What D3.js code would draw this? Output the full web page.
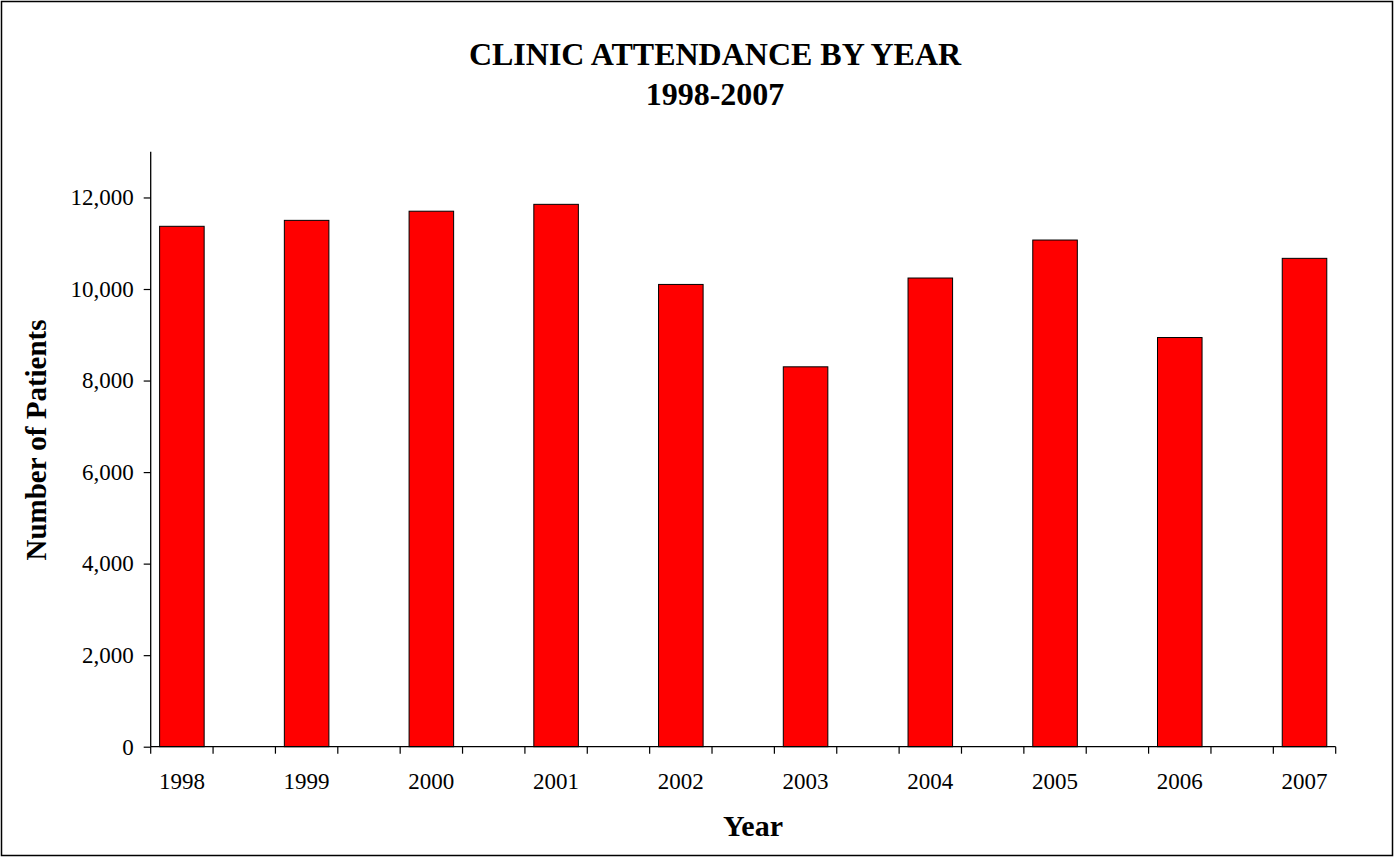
<!DOCTYPE html>
<html>
<head>
<meta charset="utf-8">
<script src="https://cdn.jsdelivr.net/npm/d3@7"></script>
<style>
html,body{margin:0;padding:0;background:#fff;}
svg{display:block;}
text{font-family:"Liberation Serif","Times New Roman",serif;fill:#000;}
</style>
</head>
<body>
<svg id="chart" width="1396" height="858"></svg>
<script>
const years = ["1998","1999","2000","2001","2002","2003","2004","2005","2006","2007"];
const patients = [11370, 11500, 11700, 11850, 10100, 8300, 10240, 11070, 8940, 10670];
const yTicks = [0, 2000, 4000, 6000, 8000, 10000, 12000];
const titleLines = ["CLINIC ATTENDANCE BY YEAR", "1998-2007"];

(function(){
const svg = d3.select("#chart");
const pL = 150.7, pR = 1335.7, pT = 151.7, pB = 746.7;

svg.append("rect").attr("x",1.5).attr("y",1.5).attr("width",1391).attr("height",854)
  .attr("fill","#fff").attr("stroke","#000").attr("stroke-width",1.5);

// 19 slots: a year on every other slot with blank slots between them
const slots = d3.range(years.length * 2 - 1);
const x = d3.scaleBand().domain(slots).range([pL, pR]).paddingInner(0).paddingOuter(0);
const barW = x.bandwidth() / 1.4;
const y = d3.scaleLinear().domain([0, 13000]).range([pB, pT]);

// bars
svg.append("g").selectAll("rect").data(patients).join("rect")
  .attr("x", (d,i) => x(i*2) + (x.bandwidth() - barW)/2)
  .attr("y", d => y(d))
  .attr("width", barW)
  .attr("height", d => y(0) - y(d))
  .attr("fill", "#FF0000")
  .attr("stroke", "#000")
  .attr("stroke-width", 1);

// y axis
const yAxis = d3.axisLeft(y).tickValues(yTicks).tickSize(7).tickPadding(10)
  .tickFormat(d3.format(","));
const gy = svg.append("g").attr("transform", `translate(${pL},0)`).call(yAxis);
gy.select(".domain").attr("stroke","#000").attr("stroke-width",1.3).attr("d", `M0,${pT}V${pB}`);
gy.selectAll(".tick line").attr("stroke","#000").attr("stroke-width",1.2);
gy.selectAll(".tick text").attr("font-family","Liberation Serif, serif").attr("font-size",23).attr("fill","#000");

// x axis
const xAxis = d3.axisBottom(x).tickSize(0).tickPadding(26)
  .tickFormat(i => (i % 2 === 0 ? years[i/2] : ""));
const gx = svg.append("g").attr("transform", `translate(0,${pB})`).call(xAxis);
gx.select(".domain").attr("stroke","#000").attr("stroke-width",1.3).attr("d", `M${pL},0H${pR}`);
gx.selectAll(".tick text").attr("font-family","Liberation Serif, serif").attr("font-size",23).attr("fill","#000");
// boundary ticks
const boundaries = slots.map(s => x(s)).concat([pR]);
gx.append("g").selectAll("line").data(boundaries).join("line")
  .attr("x1", d => d).attr("x2", d => d).attr("y1", 0).attr("y2", 7)
  .attr("stroke","#000").attr("stroke-width",1.2);

// titles
svg.append("g").selectAll("text").data(titleLines).join("text")
  .attr("x", 715).attr("y", (d,i) => 65 + i*40)
  .attr("text-anchor","middle").attr("font-weight","bold").attr("font-size",32)
  .text(d => d);

svg.append("text").attr("x", 753).attr("y", 836)
  .attr("text-anchor","middle").attr("font-weight","bold").attr("font-size",30).text("Year");

svg.append("text").attr("transform", `translate(46,440) rotate(-90)`)
  .attr("text-anchor","middle").attr("font-weight","bold").attr("font-size",29).text("Number of Patients");
})();
</script>
</body>
</html>
